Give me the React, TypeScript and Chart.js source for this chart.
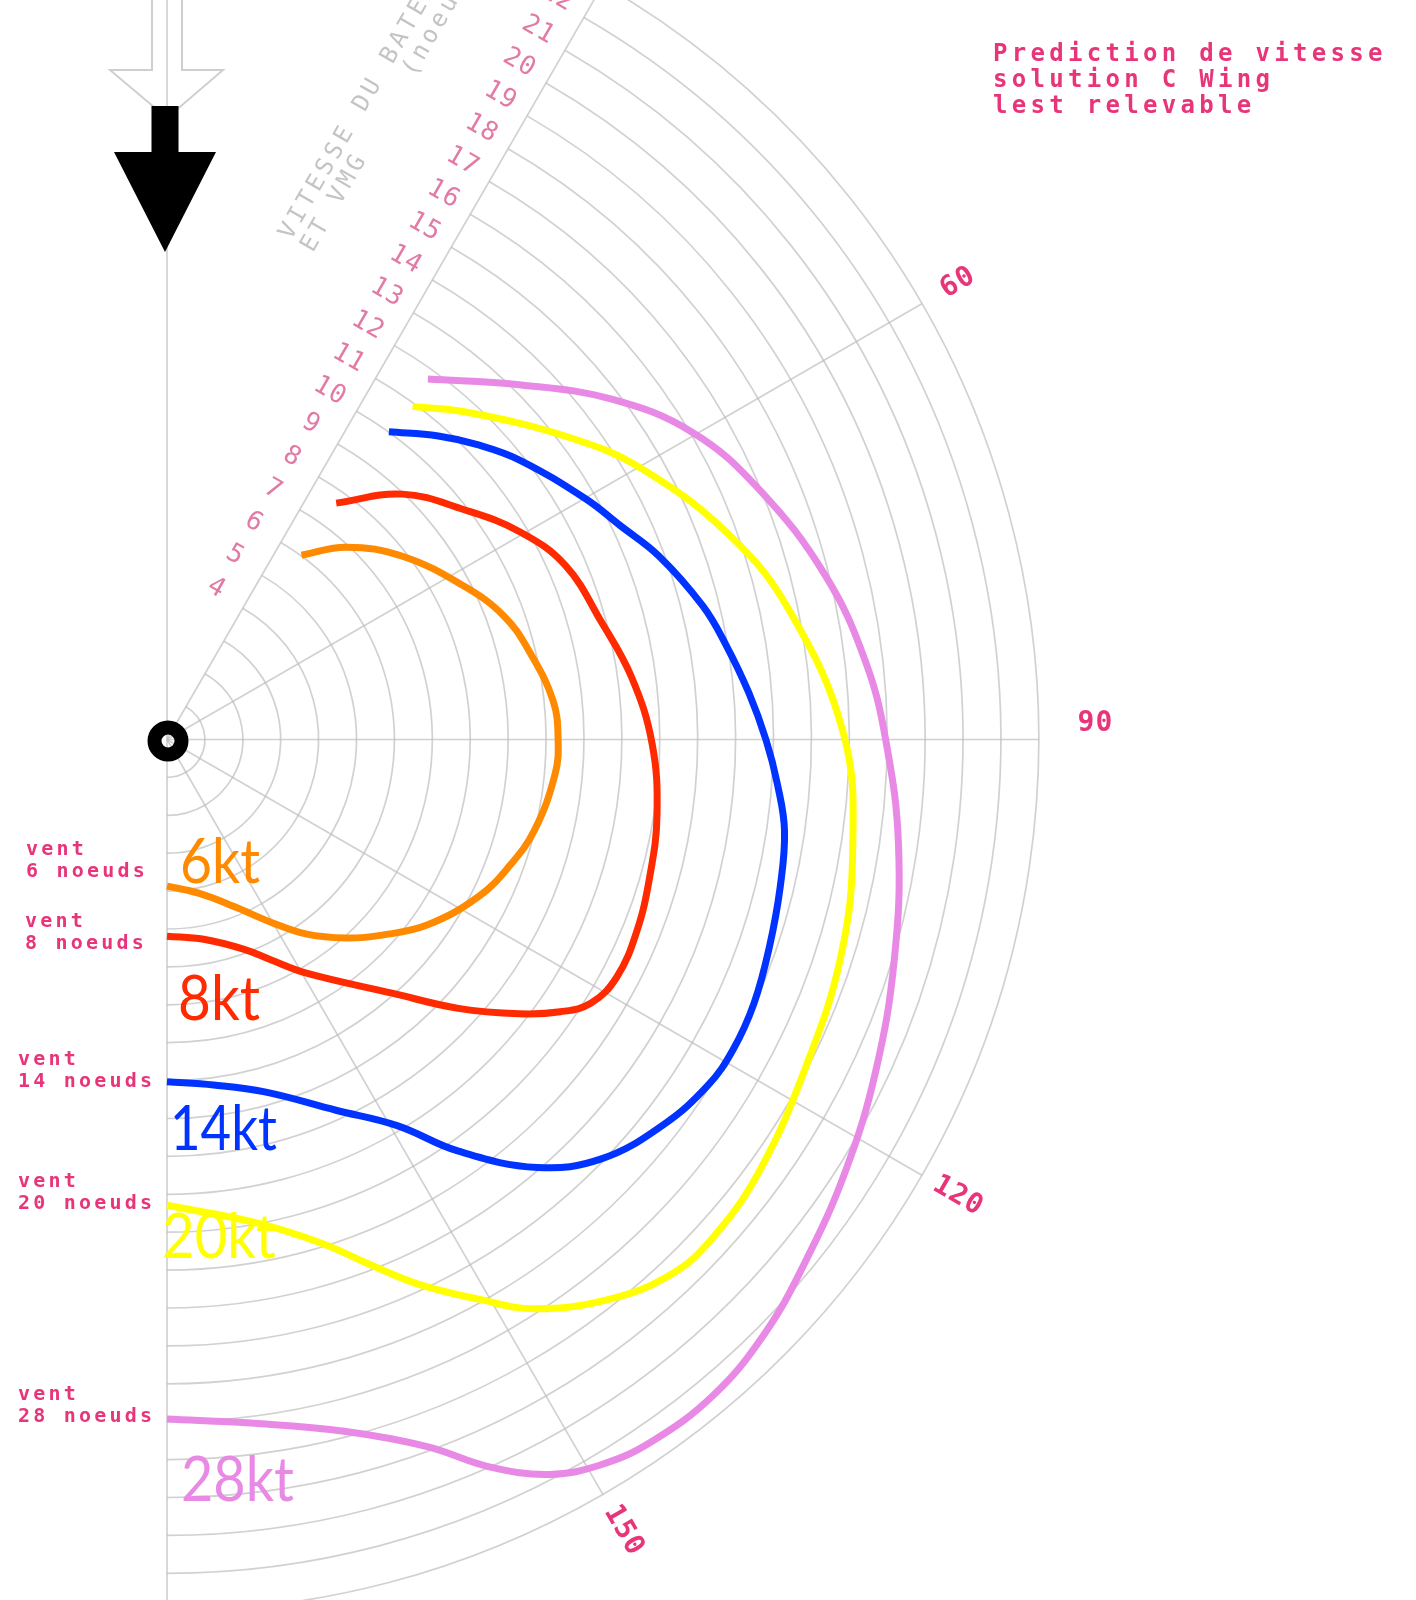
import React, { useEffect, useRef } from "react";
import { Chart, registerables } from "chart.js";

Chart.register(...registerables);

// ---- Data (true wind angle in degrees from the top, boat speed in knots) ----
const WIND_LABELS = ["6kt", "8kt", "14kt", "20kt", "28kt"];
const WIND_CAPTIONS = ["6 noeuds", "8 noeuds", "14 noeuds", "20 noeuds", "28 noeuds"];

const ANGLES_6 = [36.1, 43.0, 52.1, 62.6, 69.9, 76.4, 84.3, 90.1, 95.1, 103.8, 110.3, 116.7, 125.4, 132.3, 137.9, 144.5, 150.6, 158.1, 168.4, 180];
const SPEEDS_6 = [6.02, 6.94, 7.87, 8.81, 9.47, 9.84, 10.24, 10.32, 10.28, 9.99, 9.63, 9.21, 8.44, 7.67, 7.06, 6.3, 5.52, 4.75, 4.14, 3.87];

const ANGLES_8 = [35.6, 43.8, 52.2, 59.5, 66.4, 74.8, 82.4, 90.5, 98.7, 105.8, 112.3, 117.9, 121.9, 124.7, 127.9, 132.7, 138.4, 149.3, 154.9, 159.8, 169.6, 180];
const SPEEDS_8 = [7.67, 8.97, 9.9, 10.8, 11.47, 11.87, 12.37, 12.8, 13.08, 13.24, 13.39, 13.42, 13.17, 12.62, 11.78, 10.46, 8.95, 7.16, 6.41, 5.9, 5.36, 5.19];

const ANGLES_14 = [35.8, 41.8, 46.6, 51.6, 60.1, 64.7, 69.6, 76.0, 80.3, 85.4, 90.1, 94.2, 98.4, 103.5, 109.0, 114.2, 118.7, 122.6, 127.9, 134.0, 139.1, 144.7, 149.2, 155.5, 164.5, 172.3, 180];
const SPEEDS_14 = [10.01, 10.74, 11.31, 11.87, 12.74, 13.22, 13.86, 14.57, 14.95, 15.4, 15.81, 16.15, 16.47, 16.64, 16.81, 16.98, 17.03, 16.94, 16.57, 15.93, 14.94, 13.31, 11.86, 10.75, 9.65, 9.2, 9.03];

const ANGLES_20 = [36.4, 42.7, 53.2, 60.3, 70.1, 78.3, 89.5, 98.8, 107.9, 117.4, 126.1, 132.4, 136.6, 141.5, 147.1, 150.9, 155.3, 159.1, 163.0, 169.7, 180];
const SPEEDS_20 = [10.92, 11.74, 13.29, 14.42, 15.8, 16.77, 17.85, 18.31, 18.68, 18.95, 19.34, 19.5, 19.4, 18.85, 17.89, 16.9, 15.81, 14.79, 13.89, 12.95, 12.29];

const ANGLES_28 = [35.9, 44.8, 52.5, 59.7, 67.1, 76.0, 83.7, 90.3, 98.2, 106.7, 115.0, 122.5, 129.4, 134.9, 140.2, 145.4, 149.1, 152.5, 156.1, 159.8, 165.5, 172.7, 180];
const SPEEDS_28 = [11.74, 13.19, 14.76, 16.06, 16.96, 17.9, 18.55, 18.98, 19.5, 20.04, 20.64, 21.22, 21.77, 22.24, 22.52, 22.51, 22.3, 21.86, 20.99, 19.88, 18.86, 18.19, 17.93];

const RING_SPEEDS = [1, 2, 3, 4, 5, 6, 7, 8, 9, 10, 11, 12, 13, 14, 15, 16, 17, 18, 19, 20, 21, 22, 23];
const SPEED_TICK_LABELS = [4, 5, 6, 7, 8, 9, 10, 11, 12, 13, 14, 15, 16, 17, 18, 19, 20, 21, 22];
const SPOKE_ANGLES = [30, 60, 90, 120, 150];
const ANGLE_TICK_LABELS = [60, 90, 120, 150];
const TITLE_LINES = ["Prediction de vitesse", "solution C Wing", "lest relevable"];
const AXIS_TITLE_LINES = ["VITESSE DU BATEAU", "ET VMG     (noeuds)"];

// ---- Styles ----
const COLORS = ["#ff8a00", "#ff2a00", "#0033ff", "#ffff00", "#e889e6"];
const PX_PER_KT = 37.9;
const CENTER_PX = { x: 167, y: 739.5 };
const W = 1416;
const H = 1600;
const PINK = "#e8357a";
const LIGHT_PINK = "#e27aa6";
const GRID = "rgba(190,190,190,0.7)";
const BIG_LABEL_POS = [
  { x: 180, y: 883, w: 80 },
  { x: 178, y: 1020, w: 82 },
  { x: 170, y: 1150, w: 107 },
  { x: 162, y: 1258, w: 114 },
  { x: 181, y: 1501, w: 113 },
];
const CAPTION_POS = [
  { x: 26, y: 850 },
  { x: 25, y: 922 },
  { x: 18, y: 1060 },
  { x: 18, y: 1182 },
  { x: 18, y: 1395 },
];

const SERIES = [
  [ANGLES_6, SPEEDS_6],
  [ANGLES_8, SPEEDS_8],
  [ANGLES_14, SPEEDS_14],
  [ANGLES_20, SPEEDS_20],
  [ANGLES_28, SPEEDS_28],
];

const rad = (d: number) => (d * Math.PI) / 180;

const polarPlugin = {
  id: "polarDecor",
  beforeDatasetsDraw(chart: any) {
    const ctx = chart.ctx as CanvasRenderingContext2D;
    const xs = chart.scales.x;
    const ys = chart.scales.y;
    const cx = xs.getPixelForValue(0);
    const cy = ys.getPixelForValue(0);
    const unit = xs.getPixelForValue(1) - cx;
    const pt = (deg: number, r: number) => [
      xs.getPixelForValue(r * Math.sin(rad(deg))),
      ys.getPixelForValue(r * Math.cos(rad(deg))),
    ];
    const maxR = RING_SPEEDS[RING_SPEEDS.length - 1];

    ctx.save();
    // outlined wind arrow (light)
    ctx.strokeStyle = "#cfcfcf";
    ctx.lineWidth = 2;
    ctx.beginPath();
    ctx.moveTo(cx - 15, -2);
    ctx.lineTo(cx - 15, 70);
    ctx.lineTo(cx - 57, 70);
    ctx.lineTo(cx, 118);
    ctx.lineTo(cx + 56, 70);
    ctx.lineTo(cx + 15, 70);
    ctx.lineTo(cx + 15, -2);
    ctx.stroke();

    // grid
    ctx.strokeStyle = GRID;
    ctx.lineWidth = 1.7;
    ctx.beginPath();
    ctx.moveTo(cx, 0);
    ctx.lineTo(cx, chart.height);
    ctx.stroke();
    for (const k of RING_SPEEDS) {
      ctx.beginPath();
      ctx.arc(cx, cy, k * unit, rad(30 - 90), rad(180 - 90));
      ctx.stroke();
    }
    for (const a of SPOKE_ANGLES) {
      const [x2, y2] = pt(a, maxR);
      ctx.beginPath();
      ctx.moveTo(cx, cy);
      ctx.lineTo(x2, y2);
      ctx.stroke();
    }

    // speed tick labels along the 30° spoke
    ctx.fillStyle = LIGHT_PINK;
    ctx.font = "26px 'DejaVu Sans Mono'";
    (ctx as any).letterSpacing = "1px";
    ctx.textAlign = "center";
    ctx.textBaseline = "middle";
    const ux = Math.sin(rad(30));
    const uy = -Math.cos(rad(30));
    const vx = -Math.cos(rad(30));
    const vy = -Math.sin(rad(30));
    for (const s of SPEED_TICK_LABELS) {
      const along = s * unit + 4;
      const perp = 33;
      const x = cx + along * ux + perp * vx;
      const y = cy + along * uy + perp * vy;
      ctx.save();
      ctx.translate(x, y);
      ctx.rotate(rad(30));
      ctx.fillText(String(s), 0, 0);
      ctx.restore();
    }

    // axis title
    ctx.fillStyle = "#c4c4c4";
    ctx.font = "24px 'DejaVu Sans Mono'";
    (ctx as any).letterSpacing = "4px";
    ctx.textAlign = "left";
    ctx.textBaseline = "alphabetic";
    {
      const along = 494;
      const perp = 142;
      ctx.save();
      ctx.translate(cx + along * ux + perp * vx, cy + along * uy + perp * vy);
      ctx.rotate(rad(-60));
      AXIS_TITLE_LINES.forEach((t, i) => ctx.fillText(t, 0, i * 25));
      ctx.restore();
    }

    // angle labels
    ctx.fillStyle = PINK;
    ctx.font = "bold 28px 'DejaVu Sans Mono'";
    (ctx as any).letterSpacing = "1px";
    ctx.textAlign = "center";
    ctx.textBaseline = "middle";
    for (const a of ANGLE_TICK_LABELS) {
      const [x, y] = pt(a === 90 ? a - 1 : a, a === 90 ? 24.5 : 24.1);
      ctx.save();
      ctx.translate(x, y);
      ctx.rotate(rad(a - 90));
      ctx.fillText(String(a), 0, 0);
      ctx.restore();
    }

    // top-right title
    ctx.font = "bold 24px 'DejaVu Sans Mono'";
    (ctx as any).letterSpacing = "4.3px";
    ctx.textAlign = "left";
    TITLE_LINES.forEach((t, i) => ctx.fillText(t, 993, 55 + i * 26));

    // wind captions
    ctx.font = "bold 20px 'DejaVu Sans Mono'";
    (ctx as any).letterSpacing = "3.2px";
    WIND_CAPTIONS.forEach((t, i) => {
      const p = CAPTION_POS[i];
      ctx.fillText("vent", p.x, p.y);
      ctx.fillText(t, p.x, p.y + 22);
    });
    (ctx as any).letterSpacing = "0px";
    ctx.restore();
  },
  afterDatasetsDraw(chart: any) {
    const ctx = chart.ctx as CanvasRenderingContext2D;
    const xs = chart.scales.x;
    const ys = chart.scales.y;
    const cx = xs.getPixelForValue(0);
    const cy = ys.getPixelForValue(0);
    ctx.save();
    // black wind arrow
    ctx.fillStyle = "#000";
    ctx.beginPath();
    ctx.moveTo(cx - 15.5, 106);
    ctx.lineTo(cx - 15.5, 152);
    ctx.lineTo(cx - 53, 152);
    ctx.lineTo(cx - 2, 252);
    ctx.lineTo(cx + 49, 152);
    ctx.lineTo(cx + 11.5, 152);
    ctx.lineTo(cx + 11.5, 106);
    ctx.closePath();
    ctx.fill();
    // center marker
    ctx.strokeStyle = "#000";
    ctx.lineWidth = 14;
    ctx.beginPath();
    ctx.arc(cx + 1, cy + 1.5, 13.5, 0, Math.PI * 2);
    ctx.stroke();

    // big wind labels
    ctx.font = "62px Lato";
    ctx.textAlign = "left";
    ctx.textBaseline = "alphabetic";
    WIND_LABELS.forEach((t, i) => {
      const p = BIG_LABEL_POS[i];
      ctx.fillStyle = COLORS[i];
      ctx.fillText(t, p.x, p.y, p.w);
    });
    ctx.restore();
  },
};

export default function App() {
  const ref = useRef<HTMLCanvasElement | null>(null);
  useEffect(() => {
    if (!ref.current) return;
    const datasets = SERIES.map(([angles, speeds], i) => ({
      label: WIND_LABELS[i],
      data: angles.map((a, j) => ({
        x: speeds[j] * Math.sin(rad(a)),
        y: speeds[j] * Math.cos(rad(a)),
      })),
      showLine: true,
      borderColor: COLORS[i],
      backgroundColor: COLORS[i],
      borderWidth: 7,
      pointRadius: 0,
      tension: 0.4,
      fill: false,
      borderCapStyle: "butt" as const,
      borderJoinStyle: "round" as const,
    }));
    const chart = new Chart(ref.current, {
      type: "scatter",
      data: { datasets },
      options: {
        animation: false,
        responsive: false,
        events: [],
        layout: { padding: 0 },
        plugins: { legend: { display: false }, tooltip: { enabled: false } },
        scales: {
          x: {
            type: "linear",
            display: false,
            min: -CENTER_PX.x / PX_PER_KT,
            max: (W - CENTER_PX.x) / PX_PER_KT,
          },
          y: {
            type: "linear",
            display: false,
            min: -(H - CENTER_PX.y) / PX_PER_KT,
            max: CENTER_PX.y / PX_PER_KT,
          },
        },
      },
      plugins: [polarPlugin],
    });
    return () => chart.destroy();
  }, []);
  return (
    <div style={{ position: "absolute", left: 0, top: 0, width: W, height: H, background: "#fff" }}>
      <canvas ref={ref} width={W} height={H} style={{ display: "block" }} />
    </div>
  );
}
